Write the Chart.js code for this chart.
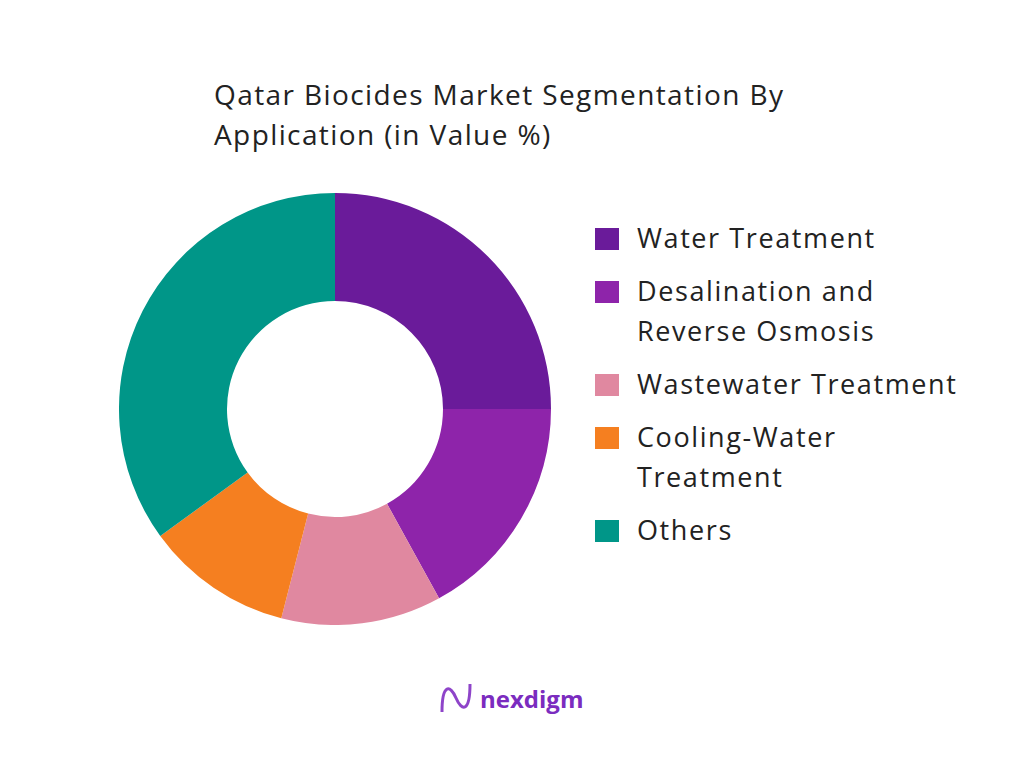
<!DOCTYPE html>
<html><head><meta charset="utf-8">
<script src="https://cdn.jsdelivr.net/npm/chart.js@4"></script>
<style>
body{margin:0;width:1024px;height:768px;background:#fff;position:relative;font-family:"Open Sans",Lato,sans-serif;overflow:hidden}
#title{position:absolute;left:214px;top:74px;font-size:28px;line-height:40px;color:#222;letter-spacing:1.4px;white-space:nowrap}
#wrap{position:absolute;left:119px;top:193px;width:432px;height:432px}
#legend{position:absolute;left:595px;top:218px;font-size:27px;color:#222;letter-spacing:1.6px;white-space:nowrap}
.item{display:flex;align-items:flex-start;margin-bottom:13px;line-height:40px}
.sw{width:24px;height:22px;margin-top:10px;margin-right:18px;flex:none}
#logo{position:absolute;left:438px;top:680px;display:flex;align-items:center;font-family:"Open Sans",sans-serif;font-weight:700;font-size:24px;color:#7b2cbf}
</style></head><body>
<div id="title">Qatar Biocides Market Segmentation By<br>Application (in Value %)</div>
<div id="wrap"><canvas id="c" width="432" height="432"></canvas></div>
<div id="legend"></div>
<div id="logo"><svg width="36" height="36" viewBox="0 0 36 36"><path d="M4 32 C4 4,12 4,18 18 S32 32,32 4" stroke="#8e44c9" stroke-width="3" fill="none"/></svg><span style="margin-left:6px">nexdigm</span></div>
<script>
const labels=["Water Treatment","Desalination and Reverse Osmosis","Wastewater Treatment","Cooling-Water Treatment","Others"];
const legendLines=[["Water Treatment"],["Desalination and","Reverse Osmosis"],["Wastewater Treatment"],["Cooling-Water","Treatment"],["Others"]];
const values=[25,17,12,11,35];
const colors=["#6a1b9a","#8e24aa","#e088a0","#f57f20","#009688"];
const lg=document.getElementById('legend');
labels.forEach((l,i)=>{const d=document.createElement('div');d.className='item';
d.innerHTML='<div class="sw" style="background:'+colors[i]+'"></div><div>'+legendLines[i].join('<br>')+'</div>';lg.appendChild(d);});
new Chart(document.getElementById('c'),{type:'doughnut',data:{labels,datasets:[{data:values,backgroundColor:colors,borderWidth:0}]},
options:{responsive:false,animation:false,cutout:'50%',plugins:{legend:{display:false},tooltip:{enabled:false}},layout:{padding:0}}});
</script></body></html>
